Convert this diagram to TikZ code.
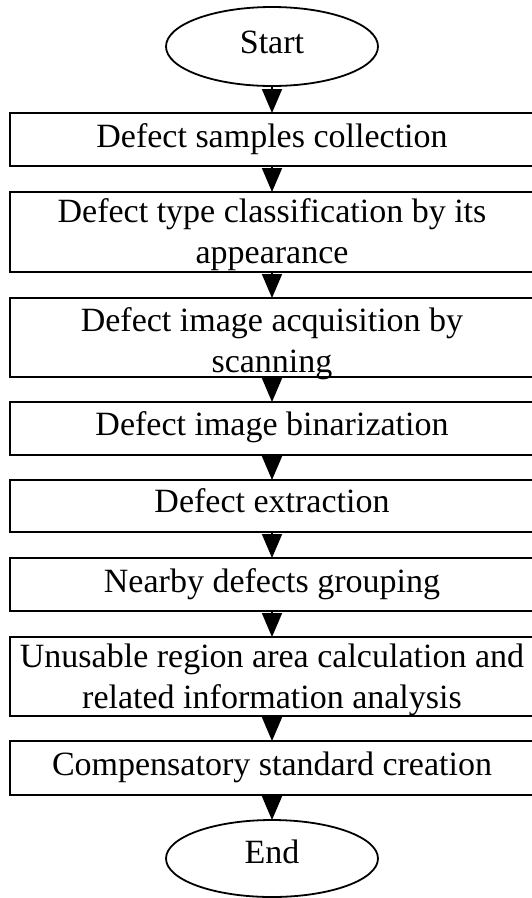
\documentclass[tikz,border=0pt]{standalone}
\usepackage{fontspec}
\setmainfont{Liberation Serif}
\usetikzlibrary{arrows.meta,shapes.geometric}
\begin{document}
\begin{tikzpicture}[x=1pt,y=1pt,
  box/.style={draw=black,line width=1.8pt,minimum width=524pt,inner sep=0pt,outer sep=0pt},
  term/.style={draw=black,line width=1.8pt,ellipse,minimum width=212pt,minimum height=79pt,inner sep=0pt,outer sep=0pt},
  txt/.style={font=\fontsize{34}{41}\selectfont,align=center,inner sep=0pt,anchor=base},
  flow/.style={line width=1.8pt,-{Triangle[width=20pt,length=24pt]}}]
\useasboundingbox (0,0) rectangle (532,-898);
% shapes
\node[term] (start) at (272,-46.5) {};
\node[box,minimum height=53pt] (b1) at (272,-139.5) {};
\node[box,minimum height=80pt] (b2) at (272,-232) {};
\node[box,minimum height=79pt] (b3) at (272,-337.5) {};
\node[box,minimum height=53pt] (b4) at (272,-428.5) {};
\node[box,minimum height=52pt] (b5) at (272,-506) {};
\node[box,minimum height=53pt] (b6) at (272,-584.5) {};
\node[box,minimum height=79pt] (b7) at (272,-676.5) {};
\node[box,minimum height=54pt] (b8) at (272,-768) {};
\node[term,minimum height=77pt] (end) at (272,-858.5) {};
% texts (base anchor = baseline of the last line)
\node[txt] (tstart) at (272,-53.5) {Start};
\node[txt] (t1) at (272,-147) {Defect samples collection};
\node[txt] (t2) at (272,-263) {Defect type classification by its\\appearance};
\node[txt] (t3) at (272,-372) {Defect image acquisition by\\scanning};
\node[txt] (t4) at (272,-435) {Defect image binarization};
\node[txt] (t5) at (272,-512) {Defect extraction};
\node[txt] (t6) at (272,-592) {Nearby defects grouping};
\node[txt] (t7) at (272,-708) {Unusable region area calculation and\\related information analysis};
\node[txt] (t8) at (272,-775) {Compensatory standard creation};
\node[txt] (tend) at (272,-863) {End};
% connectors
\draw[flow] (start.south) -- (b1.north);
\draw[flow] (b1.south) -- (b2.north);
\draw[flow] (b2.south) -- (b3.north);
\draw[flow] (b3.south) -- (b4.north);
\draw[flow] (b4.south) -- (b5.north);
\draw[flow] (b5.south) -- (b6.north);
\draw[flow] (b6.south) -- (b7.north);
\draw[flow] (b7.south) -- (b8.north);
\draw[flow] (b8.south) -- (end.north);
\end{tikzpicture}
\end{document}
